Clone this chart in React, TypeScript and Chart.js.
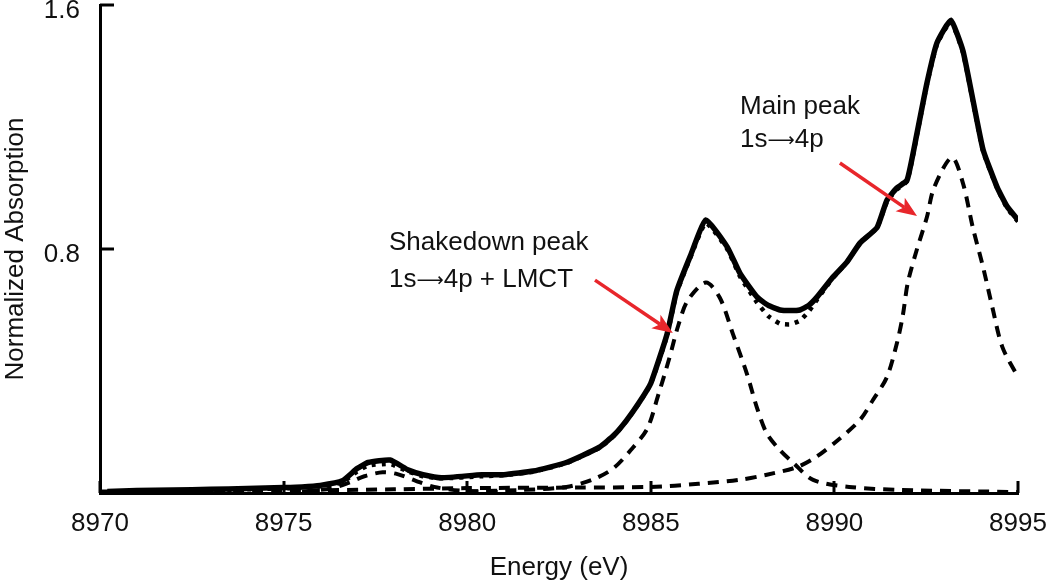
import React, { useEffect, useRef } from "react";
import { Chart, registerables } from "chart.js";

Chart.register(...registerables);

// Experimental spectrum (solid)
const expEnergy = [8970.2, 8971.0, 8972.0, 8973.0, 8974.0, 8975.0, 8975.5, 8976.0, 8976.6, 8977.0, 8977.3, 8977.9, 8978.4, 8978.8, 8979.3, 8980.4, 8981.0, 8981.8, 8982.7, 8983.6, 8984.0, 8984.35, 8984.7, 8985.0, 8985.44, 8985.7, 8986.07, 8986.5, 8987.08, 8987.43, 8987.89, 8988.2, 8988.52, 8988.8, 8989.06, 8989.3, 8989.53, 8989.96, 8990.34, 8990.7, 8991.16, 8991.43, 8991.7, 8991.98, 8992.25, 8992.52, 8992.79, 8993.17, 8993.5, 8993.77, 8994.05, 8994.43, 8994.7, 8995.0];
const expAbs = [0.005, 0.008, 0.01, 0.012, 0.015, 0.018, 0.02, 0.025, 0.04, 0.08, 0.1, 0.108, 0.075, 0.06, 0.05, 0.06, 0.06, 0.072, 0.1, 0.15, 0.19, 0.24, 0.3, 0.36, 0.52, 0.66, 0.775, 0.895, 0.807, 0.72, 0.643, 0.615, 0.6, 0.598, 0.6, 0.615, 0.643, 0.708, 0.757, 0.82, 0.87, 0.96, 1.0, 1.026, 1.18, 1.344, 1.475, 1.55, 1.45, 1.29, 1.125, 1.003, 0.94, 0.895];

// Total fit (dotted)
const fitAbs = [0.003, 0.005, 0.007, 0.009, 0.012, 0.015, 0.018, 0.022, 0.035, 0.07, 0.09, 0.095, 0.07, 0.055, 0.048, 0.055, 0.058, 0.07, 0.098, 0.148, 0.188, 0.238, 0.298, 0.358, 0.515, 0.655, 0.77, 0.885, 0.8, 0.71, 0.625, 0.58, 0.555, 0.553, 0.565, 0.595, 0.635, 0.705, 0.757, 0.82, 0.87, 0.955, 0.995, 1.022, 1.175, 1.34, 1.47, 1.545, 1.445, 1.285, 1.12, 1.0, 0.935, 0.89];

// Shakedown peak component (dashed)
const shakeEnergy = [8980.0, 8981.5, 8982.7, 8983.4, 8983.97, 8984.45, 8984.9, 8985.2, 8985.5, 8985.75, 8986.0, 8986.5, 8986.88, 8987.24, 8987.62, 8987.89, 8988.16, 8988.52, 8988.87, 8989.42, 8990.4, 8991.8, 8995.0];
const shakeAbs = [0.005, 0.01, 0.02, 0.043, 0.08, 0.14, 0.21, 0.32, 0.44, 0.55, 0.63, 0.69, 0.64, 0.52, 0.39, 0.28, 0.195, 0.14, 0.1, 0.043, 0.02, 0.01, 0.003];

// Main peak component (dashed)
const mainEnergy = [8970.0, 8975.0, 8978.0, 8980.0, 8983.0, 8985.0, 8986.3, 8987.4, 8988.16, 8988.98, 8989.5, 8990.1, 8990.7, 8991.05, 8991.43, 8991.7, 8991.86, 8992.0, 8992.25, 8992.52, 8992.71, 8993.2, 8993.5, 8993.77, 8994.05, 8994.3, 8994.57, 8995.0];
const mainAbs = [0.005, 0.008, 0.012, 0.016, 0.018, 0.02, 0.03, 0.043, 0.06, 0.085, 0.118, 0.174, 0.24, 0.305, 0.38, 0.49, 0.58, 0.69, 0.8, 0.905, 1.0, 1.1, 1.016, 0.87, 0.74, 0.61, 0.48, 0.38];

// Pre-edge component (dashed)
const preEnergy = [8975.5, 8976.3, 8976.8, 8977.2, 8977.7, 8978.1, 8978.6, 8979.1, 8979.8, 8981.0];
const preAbs = [0.005, 0.015, 0.035, 0.055, 0.068, 0.062, 0.04, 0.02, 0.008, 0.003];

const xTickValues = [8970, 8975, 8980, 8985, 8990, 8995];
const yTickValues = [0.8, 1.6];
const yTickLabels = ["0.8", "1.6"];

const annotationTexts = [
  { text: "Shakedown peak", x: 8977.87, y: 0.82 },
  { text: "1s\u27f64p + LMCT", x: 8977.87, y: 0.698 },
  { text: "Main peak", x: 8987.43, y: 1.266 },
  { text: "1s\u27f64p", x: 8987.43, y: 1.157 },
];
const arrowFromX = [8983.48, 8990.15];
const arrowFromY = [0.698, 1.082];
const arrowToX = [8985.6, 8992.25];
const arrowToY = [0.525, 0.908];

const FONT = "'Liberation Sans', Arial, Helvetica, sans-serif";
const ARROW_FONT = "'DejaVu Sans', sans-serif";
const FS = 26;

const toPoints = (xs: number[], ys: number[]) => xs.map((x, i) => ({ x, y: ys[i] }));

const drawMixed = (ctx: CanvasRenderingContext2D, text: string, x: number, y: number) => {
  const parts = text.split("\u27f6");
  let cx = x;
  parts.forEach((p, i) => {
    ctx.font = `${FS}px ${FONT}`;
    ctx.fillText(p, cx, y);
    cx += ctx.measureText(p).width;
    if (i < parts.length - 1) {
      ctx.font = `${FS - 7}px ${ARROW_FONT}`;
      ctx.fillText("\u27f6", cx, y + 1);
      cx += ctx.measureText("\u27f6").width;
    }
  });
};

const overlayPlugin = {
  id: "overlay",
  afterDatasetsDraw(chart: any) {
    const { ctx, scales } = chart;
    const xs = scales.x;
    const ys = scales.y;
    ctx.save();
    // inward ticks
    ctx.strokeStyle = "#000";
    ctx.lineWidth = 3;
    xTickValues.forEach((v) => {
      const px = Math.round(xs.getPixelForValue(v));
      ctx.beginPath();
      ctx.moveTo(px, ys.bottom);
      ctx.lineTo(px, ys.bottom - 12);
      ctx.stroke();
    });
    yTickValues.forEach((v) => {
      const py = Math.round(ys.getPixelForValue(v));
      ctx.beginPath();
      ctx.moveTo(xs.left, py);
      ctx.lineTo(xs.left + 14, py);
      ctx.stroke();
    });
    // y tick labels
    ctx.fillStyle = "#111";
    ctx.font = `${FS}px ${FONT}`;
    ctx.textAlign = "right";
    ctx.textBaseline = "middle";
    yTickValues.forEach((v, i) => {
      const py = ys.getPixelForValue(v);
      ctx.fillText(yTickLabels[i], xs.left - 20, py + 6);
    });
    // annotation texts
    ctx.textAlign = "left";
    annotationTexts.forEach((t) => {
      drawMixed(ctx, t.text, xs.getPixelForValue(t.x), ys.getPixelForValue(t.y));
    });
    // red arrows
    ctx.strokeStyle = "#e8262b";
    ctx.fillStyle = "#e8262b";
    ctx.lineWidth = 3.5;
    for (let i = 0; i < arrowFromX.length; i++) {
      const x0 = xs.getPixelForValue(arrowFromX[i]);
      const y0 = ys.getPixelForValue(arrowFromY[i]);
      const x1 = xs.getPixelForValue(arrowToX[i]);
      const y1 = ys.getPixelForValue(arrowToY[i]);
      const ang = Math.atan2(y1 - y0, x1 - x0);
      const headLen = 22;
      const bx = x1 - headLen * 0.7 * Math.cos(ang);
      const by = y1 - headLen * 0.7 * Math.sin(ang);
      ctx.beginPath();
      ctx.moveTo(x0, y0);
      ctx.lineTo(bx, by);
      ctx.stroke();
      ctx.beginPath();
      ctx.moveTo(x1, y1);
      ctx.lineTo(x1 - headLen * Math.cos(ang - 0.38), y1 - headLen * Math.sin(ang - 0.38));
      ctx.lineTo(bx, by);
      ctx.lineTo(x1 - headLen * Math.cos(ang + 0.38), y1 - headLen * Math.sin(ang + 0.38));
      ctx.closePath();
      ctx.fill();
    }
    ctx.restore();
  },
};

export default function App() {
  const canvasRef = useRef<HTMLCanvasElement | null>(null);

  useEffect(() => {
    const canvas = canvasRef.current;
    if (!canvas) return;
    const dashedStyle = {
      borderColor: "#000",
      borderWidth: 4,
      borderDash: [11, 8],
      pointRadius: 0,
      fill: false,
      tension: 0.3,
    };
    const chart = new Chart(canvas, {
      type: "line",
      data: {
        datasets: [
          {
            label: "Experiment",
            data: toPoints(expEnergy, expAbs),
            borderColor: "#000",
            borderWidth: 5.5,
            pointRadius: 0,
            fill: false,
            tension: 0.15,
          },
          {
            label: "Fit",
            data: toPoints(expEnergy, fitAbs),
            borderColor: "#000",
            borderWidth: 4.5,
            borderDash: [4, 6],
            pointRadius: 0,
            fill: false,
            tension: 0.15,
          },
          { label: "Shakedown", data: toPoints(shakeEnergy, shakeAbs), ...dashedStyle },
          { label: "Main", data: toPoints(mainEnergy, mainAbs), ...dashedStyle },
          { label: "Pre-edge", data: toPoints(preEnergy, preAbs), ...dashedStyle },
        ],
      },
      options: {
        animation: false,
        responsive: false,
        layout: { padding: { left: 0, top: 5, right: 32, bottom: 0 } },
        plugins: { legend: { display: false }, tooltip: { enabled: false } },
        scales: {
          x: {
            type: "linear",
            min: 8970,
            max: 8995,
            afterFit: (s: any) => {
              s.height = 93;
              s.paddingLeft = 0;
              s.paddingRight = 0;
            },
            afterBuildTicks: (s: any) => {
              s.ticks = xTickValues.map((v) => ({ value: v }));
            },
            grid: { display: false, drawTicks: false },
            border: { display: true, color: "#000", width: 3 },
            ticks: {
              color: "#111",
              font: { family: FONT, size: FS },
              padding: 15,
              maxRotation: 0,
              callback: (v: any) => String(v),
            },
            title: {
              display: true,
              text: "Energy (eV)",
              color: "#111",
              font: { family: FONT, size: FS },
              padding: { top: 0, bottom: 3 },
            },
          },
          y: {
            type: "linear",
            min: 0,
            max: 1.6,
            afterFit: (s: any) => {
              s.width = 100;
              s.paddingTop = 0;
              s.paddingBottom = 0;
            },
            grid: { display: false, drawTicks: false },
            border: { display: true, color: "#000", width: 3 },
            ticks: { display: false },
            title: {
              display: true,
              text: "Normalized Absorption",
              color: "#111",
              font: { family: FONT, size: FS },
              padding: { top: 0, bottom: 0 },
            },
          },
        },
      },
      plugins: [overlayPlugin],
    });
    return () => chart.destroy();
  }, []);

  return (
    <div style={{ position: "fixed", left: 0, top: 0, width: 1050, height: 586, background: "#fff" }}>
      <canvas ref={canvasRef} width={1050} height={586} />
    </div>
  );
}
